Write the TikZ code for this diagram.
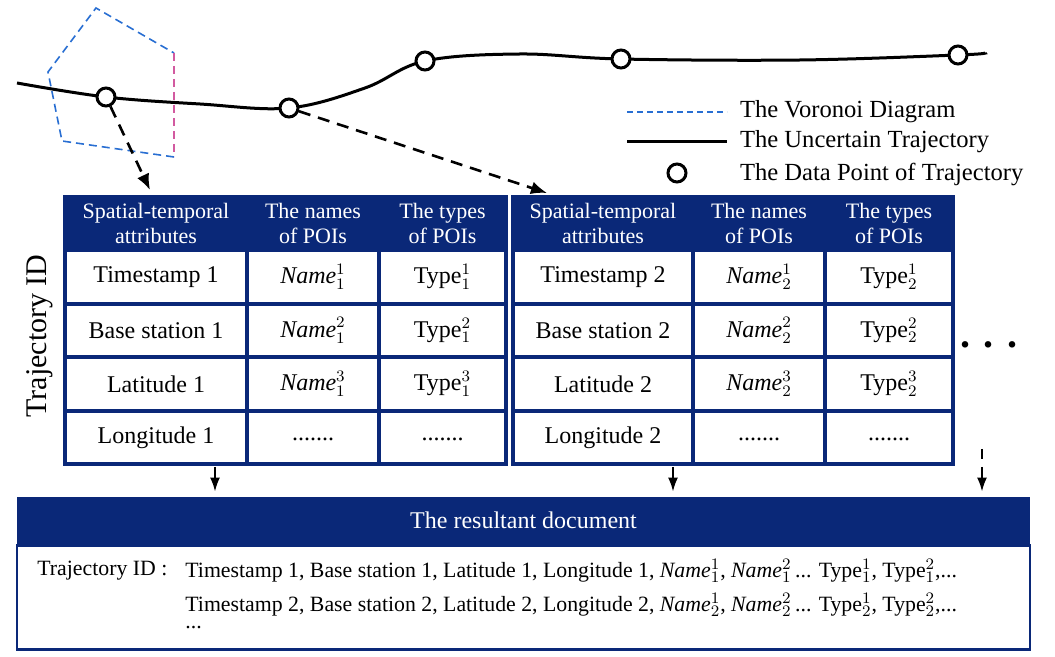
\documentclass[tikz,border=0pt]{standalone}
\usepackage{fontspec}
\setmainfont{Liberation Serif}
\usetikzlibrary{arrows.meta}
\definecolor{navy}{RGB}{10,40,120}
\definecolor{vorblue}{RGB}{40,110,210}
\definecolor{vorpink}{RGB}{210,90,160}

\begin{document}
\begin{tikzpicture}[x=0.5pt,y=-0.5pt,
  >={Latex[length=8pt,width=6.5pt]},
  cell/.style={draw=navy,line width=1.8pt,fill=white,minimum height=26.75pt,inner sep=0pt,font=\fontsize{12}{14}\selectfont},
  headcell/.style={cell,fill=navy,text=white,align=center,font=\fontsize{11}{12.5}\selectfont},
  datapt/.style={circle,draw,line width=1.5pt,fill=white,minimum size=9pt,inner sep=0pt},
  dasharrow/.style={->,line width=1.3pt,dash pattern=on 6pt off 4pt},
  downarrow/.style={-{Latex[length=7pt,width=5pt]},line width=1pt,shorten >=2.5pt},
  vordash/.style={dash pattern=on 4pt off 2.5pt,line width=0.8pt}]

\useasboundingbox (0,0) rectangle (1055,657);

% voronoi cell and trajectory
\draw[vordash,vorblue] (174,157) -- (62,141) -- (48,72) -- (96,8) -- (174,53);
\draw[vordash,vorpink] (174,53) -- (174,157);
\draw[line width=1.5pt] plot[smooth,tension=0.6] coordinates {(17,83) (106,97) (200,104) (289,108) (365,88) (425,61) (520,54) (621,59) (800,60) (958,55) (985,53)};

\node[datapt] (p1) at (106,97) {};
\node[datapt] (p2) at (289,108) {};
\node[datapt] (p3) at (425,61) {};
\node[datapt] (p4) at (621,59) {};
\node[datapt] (p5) at (958,55) {};

\coordinate (a1) at (150,190);
\coordinate (a2) at (547,193);
\draw[dasharrow] (p1) -- (a1);
\draw[dasharrow] (p2) -- (a2);

% legend
\coordinate (l1) at (627,112);
\coordinate (l2) at (627,142);
\draw[vorblue,dash pattern=on 3pt off 2pt,line width=0.6pt] (l1) -- ++(100,0);
\draw[line width=1.5pt] (l2) -- ++(100,0);
\node[datapt] (lpt) at (677,173) {};
\node[anchor=west,font=\fontsize{12.3}{14}\selectfont] (legvor) at (733,112) {The Voronoi Diagram};
\node[anchor=west,font=\fontsize{12.3}{14}\selectfont] (legtraj) at (733,142) {The Uncertain Trajectory};
\node[anchor=west,font=\fontsize{12.3}{14}\selectfont] (legpt) at (733,174) {The Data Point of Trajectory};

% first table
\node[headcell,minimum width=91pt] (h11) at (156,223.5) {Spatial-temporal\\attributes};
\node[headcell,minimum width=66pt] (h12) at (313,223.5) {The names\\of POIs};
\node[headcell,minimum width=63.5pt] (h13) at (442.5,223.5) {The types\\of POIs};
\node[cell,minimum width=91pt] (a11) at (156,277) {Timestamp 1};
\node[cell,minimum width=66pt] (a12) at (313,277) {$\mathit{Name}_1^1$};
\node[cell,minimum width=63.5pt] (a13) at (442.5,277) {Type$_1^1$};
\node[cell,minimum width=91pt] (a21) at (156,330.5) {Base station 1};
\node[cell,minimum width=66pt] (a22) at (313,330.5) {$\mathit{Name}_1^2$};
\node[cell,minimum width=63.5pt] (a23) at (442.5,330.5) {Type$_1^2$};
\node[cell,minimum width=91pt] (a31) at (156,384) {Latitude 1};
\node[cell,minimum width=66pt] (a32) at (313,384) {$\mathit{Name}_1^3$};
\node[cell,minimum width=63.5pt] (a33) at (442.5,384) {Type$_1^3$};
\node[cell,minimum width=91pt] (a41) at (156,437.5) {Longitude 1};
\node[cell,minimum width=66pt] (a42) at (313,437.5) {\raisebox{-3pt}{.......}};
\node[cell,minimum width=63.5pt] (a43) at (442.5,437.5) {\raisebox{-3pt}{.......}};

% second table
\node[headcell,minimum width=90pt] (h21) at (603,223.5) {Spatial-temporal\\attributes};
\node[headcell,minimum width=66pt] (h22) at (759,223.5) {The names\\of POIs};
\node[headcell,minimum width=64pt] (h23) at (889,223.5) {The types\\of POIs};
\node[cell,minimum width=90pt] (b11) at (603,277) {Timestamp 2};
\node[cell,minimum width=66pt] (b12) at (759,277) {$\mathit{Name}_2^1$};
\node[cell,minimum width=64pt] (b13) at (889,277) {Type$_2^1$};
\node[cell,minimum width=90pt] (b21) at (603,330.5) {Base station 2};
\node[cell,minimum width=66pt] (b22) at (759,330.5) {$\mathit{Name}_2^2$};
\node[cell,minimum width=64pt] (b23) at (889,330.5) {Type$_2^2$};
\node[cell,minimum width=90pt] (b31) at (603,384) {Latitude 2};
\node[cell,minimum width=66pt] (b32) at (759,384) {$\mathit{Name}_2^3$};
\node[cell,minimum width=64pt] (b33) at (889,384) {Type$_2^3$};
\node[cell,minimum width=90pt] (b41) at (603,437.5) {Longitude 2};
\node[cell,minimum width=66pt] (b42) at (759,437.5) {\raisebox{-3pt}{.......}};
\node[cell,minimum width=64pt] (b43) at (889,437.5) {\raisebox{-3pt}{.......}};

\node[rotate=90,font=\fontsize{15}{18}\selectfont] (tid) at (40,336) {Trajectory ID};
\node[anchor=base,font=\fontsize{20}{20}\selectfont\bfseries] (more) at (989,348) {. . .};

% resultant document
\node[fill=navy,text=white,minimum width=506.5pt,minimum height=23.5pt,inner sep=0pt,font=\fontsize{12}{14}\selectfont] (dochead) at (523.5,520.5) {The resultant document};
\node[draw=navy,line width=1.2pt,minimum width=506.5pt,minimum height=52pt,inner sep=0pt,anchor=north] (docbody) at (dochead.south) {};

\node[anchor=west,inner sep=0pt,font=\fontsize{10.9}{12}\selectfont] (docid) at (37,571) {Trajectory ID :};
\node[anchor=west,inner sep=0pt,font=\fontsize{10.9}{12}\selectfont] (line1) at (185,571) {Timestamp 1, Base station 1, Latitude 1, Longitude 1, $\mathit{Name}_1^1$, $\mathit{Name}_1^2$\,... Type$_1^1$, Type$_1^2$,...};
\node[anchor=west,inner sep=0pt,font=\fontsize{10.9}{12}\selectfont] (line2) at (185,605) {Timestamp 2, Base station 2, Latitude 2, Longitude 2, $\mathit{Name}_2^1$, $\mathit{Name}_2^2$\,... Type$_2^1$, Type$_2^2$,...};
\node[anchor=west,inner sep=0pt,font=\fontsize{10.9}{12}\selectfont] (line3) at (185,628) {...};

% arrows down to the document
\coordinate (d1) at (215,467);
\coordinate (d2) at (673,467);
\coordinate (d3) at (982,449);
\draw[downarrow] (d1) -- (d1 |- dochead.north);
\draw[downarrow] (d2) -- (d2 |- dochead.north);
\draw[downarrow,dash pattern=on 5pt off 4pt on 40pt off 1pt] (d3) -- (d3 |- dochead.north);
\end{tikzpicture}
\end{document}
